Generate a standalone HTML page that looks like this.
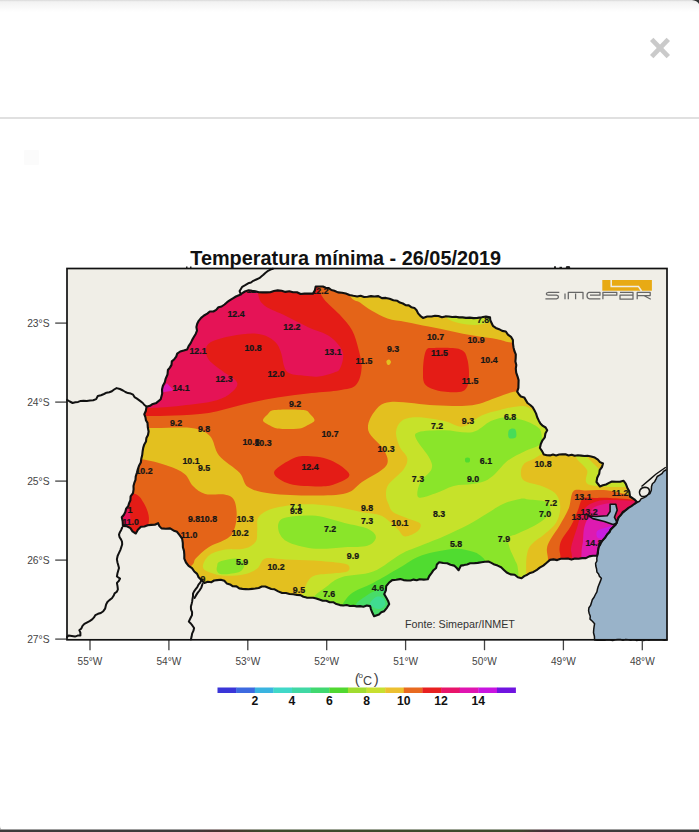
<!DOCTYPE html>
<html><head><meta charset="utf-8">
<style>
html,body{margin:0;padding:0;background:#fff;width:699px;height:832px;overflow:hidden}
svg{position:absolute;left:0;top:0;display:block}
text{font-family:"Liberation Sans",sans-serif}
</style></head>
<body>
<svg width="699" height="832" viewBox="0 0 699 832">
<defs>
<linearGradient id="topsh" x1="0" y1="0" x2="0" y2="1">
<stop offset="0" stop-color="#d8d8d8"/><stop offset="0.15" stop-color="#f2f2f2"/><stop offset="1" stop-color="#ffffff"/>
</linearGradient>
<linearGradient id="botg" x1="0" y1="0" x2="1" y2="0"><stop offset="0" stop-color="#3c3c3c"/><stop offset="0.27" stop-color="#3c3c3c"/><stop offset="0.31" stop-color="#4a3232"/><stop offset="0.38" stop-color="#3c4a2c"/><stop offset="0.74" stop-color="#3c4a2c"/><stop offset="0.78" stop-color="#4a2c3a"/><stop offset="0.83" stop-color="#3c3c3c"/><stop offset="1" stop-color="#3c3c3c"/></linearGradient>
<clipPath id="st"><path id="stp" d="M241.6,293.6 L244.9,291.5 L248.7,290.2 L252.1,290.9 L255.5,291.3 L258.8,292.2 L262.6,292.4 L266.4,292.4 L270.2,292.2 L273.9,291.0 L277.7,290.4 L281.6,290.8 L285.4,291.9 L289.3,291.3 L293.1,292.2 L297.0,292.2 L300.6,294.0 L304.5,293.6 L308.7,293.5 L312.9,293.6 L314.9,290.3 L315.7,286.5 L319.3,286.5 L322.9,286.5 L325.7,287.8 L328.8,288.1 L331.4,290.0 L334.3,290.8 L338.0,292.4 L342.0,292.7 L345.8,293.6 L349.5,295.0 L353.3,295.8 L357.2,296.5 L360.6,295.7 L364.1,297.0 L367.5,296.7 L371.0,296.1 L374.4,296.5 L378.3,296.1 L381.9,298.1 L385.8,297.9 L389.6,298.8 L393.4,300.2 L397.3,300.8 L399.9,302.6 L402.9,303.5 L405.6,305.1 L408.8,305.4 L411.3,307.2 L414.4,307.9 L416.6,310.3 L418.1,313.4 L420.3,315.8 L423.0,317.9 L427.2,316.5 L431.6,316.5 L435.0,315.8 L438.5,316.0 L441.9,317.3 L445.4,316.4 L448.8,316.5 L452.2,317.0 L455.7,316.7 L459.1,317.4 L462.6,317.4 L466.0,317.9 L469.8,317.6 L473.6,318.1 L477.4,317.9 L481.7,317.3 L486.0,316.5 L490.0,317.2 L490.3,320.3 L491.6,323.0 L492.9,325.8 L495.8,327.9 L499.1,329.2 L502.2,330.9 L505.8,331.5 L507.9,334.6 L511.0,336.8 L512.9,340.1 L513.0,343.8 L513.5,347.4 L514.4,351.0 L515.8,354.4 L515.7,358.0 L515.4,361.5 L516.3,365.1 L515.8,368.7 L516.2,372.6 L517.5,376.3 L518.6,380.1 L518.5,384.0 L518.4,387.9 L517.2,391.6 L518.9,394.2 L520.9,396.5 L524.2,397.4 L525.8,400.1 L527.5,403.0 L530.2,405.0 L532.7,407.3 L534.4,410.2 L536.1,413.6 L537.2,417.3 L538.7,420.4 L540.4,423.4 L542.9,425.9 L545.6,427.5 L547.2,430.2 L545.4,433.5 L544.8,437.3 L542.5,440.3 L540.8,444.0 L539.9,448.0 L542.1,451.1 L543.8,454.5 L546.9,455.2 L550.0,455.4 L553.0,454.5 L556.1,455.4 L559.2,454.5 L562.3,454.4 L565.5,454.3 L568.5,455.5 L571.7,454.7 L574.7,455.8 L577.9,455.3 L581.2,455.6 L584.4,456.0 L587.6,455.8 L591.2,456.5 L594.8,457.6 L597.9,459.6 L600.0,462.1 L603.0,463.5 L602.0,467.0 L599.7,470.1 L599.2,473.8 L597.2,477.7 L596.5,482.0 L600.0,486.5 L602.9,485.3 L606.0,484.5 L609.0,482.9 L612.0,481.5 L616.0,481.7 L620.0,481.8 L623.6,480.8 L625.7,483.6 L627.3,487.7 L629.3,491.5 L630.0,496.5 L634.3,499.3 L637.2,502.2 L634.3,504.0 L631.4,506.1 L628.5,507.9 L625.8,510.1 L622.9,511.9 L621.1,514.8 L618.7,517.2 L617.4,520.8 L615.8,524.4 L613.0,527.2 L610.8,529.4 L609.5,532.3 L607.2,534.4 L605.3,537.5 L602.9,540.1 L600.0,543.3 L598.6,547.3 L597.9,551.5 L597.2,555.8 L592.9,555.8 L589.3,556.4 L585.9,558.1 L582.2,558.1 L578.6,558.7 L575.0,558.6 L571.5,559.6 L567.9,558.5 L564.3,558.7 L560.7,558.8 L557.2,560.1 L553.6,559.4 L550.0,559.9 L546.7,562.8 L543.3,565.6 L539.7,567.6 L536.5,570.2 L533.5,571.9 L530.2,572.9 L527.3,574.7 L524.2,576.1 L521.6,578.2 L517.8,577.2 L514.7,574.7 L510.5,574.4 L506.7,572.5 L503.9,569.9 L501.1,567.2 L497.6,565.6 L494.4,564.6 L491.4,562.9 L488.4,561.5 L484.9,561.7 L481.5,562.2 L477.7,562.9 L473.9,563.2 L470.1,563.3 L467.1,564.4 L464.0,565.1 L460.9,565.6 L458.6,570.2 L456.5,567.8 L454.1,565.6 L450.5,564.8 L447.2,563.3 L443.2,563.0 L439.2,562.2 L436.9,564.6 L436.1,568.0 L433.5,570.2 L431.5,573.2 L429.3,576.0 L427.8,579.3 L423.8,579.6 L419.7,579.3 L416.7,580.2 L413.6,579.6 L410.6,580.5 L407.1,580.5 L403.6,580.1 L400.2,579.1 L396.2,579.7 L392.2,580.1 L388.9,582.8 L386.2,586.1 L385.9,590.3 L384.2,594.1 L386.5,598.0 L388.1,600.9 L389.2,604.1 L386.9,607.8 L384.2,611.2 L381.3,612.3 L379.0,614.5 L374.1,616.2 L372.0,612.0 L370.9,609.1 L370.1,606.1 L366.8,605.5 L363.4,606.7 L360.1,606.1 L356.7,606.4 L353.4,605.8 L350.0,606.0 L346.7,605.0 L343.3,605.5 L340.0,605.1 L336.4,604.1 L333.2,602.2 L329.6,602.2 L326.3,600.8 L322.7,600.7 L319.3,599.5 L316.3,598.4 L313.2,597.7 L310.0,597.7 L306.6,597.6 L303.4,596.7 L300.4,595.1 L297.0,594.9 L293.3,594.2 L289.5,594.0 L285.9,593.0 L282.1,593.0 L278.2,591.4 L274.6,589.3 L271.3,589.0 L268.3,587.8 L265.3,586.5 L261.9,586.5 L258.7,588.0 L255.3,588.5 L252.0,588.9 L248.6,589.3 L245.5,589.1 L242.4,588.9 L239.3,588.4 L236.5,586.4 L232.9,586.3 L230.1,584.4 L226.7,583.4 L224.3,580.8 L220.8,579.7 L217.2,580.1 L214.1,580.5 L211.5,582.2 L207.8,581.7 L204.3,582.9 L201.4,580.1 L198.6,577.2 L197.1,573.9 L194.3,571.5 L192.0,568.1 L188.6,565.8 L186.0,562.5 L184.3,558.6 L184.3,554.7 L184.0,550.9 L182.9,547.2 L182.8,542.9 L182.1,538.7 L179.6,535.2 L177.0,531.8 L173.4,530.4 L170.1,528.4 L165.8,528.7 L161.5,528.4 L159.4,526.1 L158.1,523.2 L154.8,524.8 L151.2,524.9 L147.7,525.3 L144.4,526.5 L140.9,526.7 L137.9,529.8 L135.8,533.5 L132.5,531.4 L130.4,528.1 L126.9,526.3 L122.9,525.9 L122.7,521.6 L121.8,517.3 L123.9,514.8 L125.3,512.0 L126.1,508.8 L128.2,506.3 L129.1,503.1 L130.4,500.2 L130.6,496.4 L133.0,493.1 L133.6,489.4 L133.5,486.1 L134.3,482.9 L135.5,479.8 L135.7,476.6 L136.8,473.0 L137.8,469.4 L139.0,465.8 L140.8,462.5 L141.3,458.7 L142.2,455.1 L142.6,451.5 L143.2,447.9 L144.3,444.4 L146.0,441.4 L146.4,437.9 L148.0,434.9 L148.6,431.5 L147.8,427.2 L147.5,422.9 L145.9,420.2 L145.4,417.1 L144.3,414.3 L145.9,410.7 L146.5,406.8 L150.0,405.8 L152.1,404.3 L156.4,402.9 L160.7,399.3 L162.2,393.6 L162.0,389.6 L162.9,385.7 L164.8,382.3 L165.7,378.6 L167.5,374.5 L167.9,370.0 L169.9,367.6 L171.5,364.9 L171.8,361.4 L174.3,359.2 L176.2,356.7 L177.2,353.7 L180.2,351.5 L183.7,350.5 L187.2,349.4 L188.6,346.1 L190.7,343.1 L192.2,339.9 L194.0,336.8 L195.8,333.7 L197.0,330.6 L196.4,327.1 L197.2,323.8 L198.7,320.8 L201.1,317.9 L204.0,315.5 L207.3,313.6 L209.8,311.5 L213.4,311.5 L216.2,309.9 L218.4,307.3 L221.6,306.5 L224.5,304.5 L227.1,302.2 L230.0,300.2 L232.9,298.3 L235.9,296.5 L238.9,295.3Z"/></clipPath>
</defs>
<rect x="0" y="0" width="699" height="832" fill="#fff"/>
<rect x="0" y="0" width="699" height="12" fill="url(#topsh)"/>
<rect x="0" y="117" width="699" height="2" fill="#e0e0e0"/>
<rect x="24" y="150" width="15" height="15" rx="1" fill="#fbfbfb"/>
<path d="M692,0 H699 V4 C698,1.5 695,0.5 692,0 Z" fill="#333"/>
<rect x="0" y="829.5" width="699" height="2.5" fill="url(#botg)"/>
<path d="M0,826 C0,829 1,829.5 3,829.5 L0,829.5 Z" fill="#888"/>
<g stroke="#cacaca" stroke-width="4.8">
<line x1="651.7" y1="39.4" x2="668.3" y2="56.6"/><line x1="668.3" y1="39.4" x2="651.7" y2="56.6"/>
</g>
<text x="345.7" y="265.2" font-size="19.87" font-weight="bold" text-anchor="middle" fill="#111">Temperatura mínima - 26/05/2019</text>
<rect x="67" y="268" width="600" height="372" fill="#f0eee7"/>
<g clip-path="url(#st)">
<rect x="67" y="268" width="600" height="372" fill="#e3c01f"/>
<path fill="#e46418" d="M120.0,425.0 C120.0,425.0 138.1,427.5 150.0,428.0 C161.9,428.5 181.5,426.7 191.5,428.0 C201.5,429.3 205.4,431.4 210.0,436.0 C214.6,440.6 214.1,449.4 219.0,455.5 C223.9,461.6 234.8,467.4 239.6,472.7 C244.4,477.9 242.8,483.5 248.0,487.0 C253.2,490.5 259.9,492.1 270.5,493.5 C281.1,494.9 299.1,495.5 311.7,495.5 C324.3,495.5 337.6,495.6 346.0,493.3 C354.4,491.1 355.3,486.6 362.0,482.0 C368.7,477.4 382.3,471.3 386.0,466.0 C389.7,460.7 386.9,455.9 384.0,450.0 C381.1,444.1 369.9,436.8 368.3,430.4 C366.7,424.0 370.9,416.2 374.6,411.5 C378.3,406.8 380.4,403.1 390.4,402.0 C400.4,400.9 420.8,404.7 434.4,405.2 C448.0,405.7 461.7,406.5 472.2,405.2 C482.7,403.9 489.9,399.6 497.2,397.3 C504.5,395.0 508.7,392.5 515.8,391.6 C522.9,390.7 532.6,392.3 540.0,392.0 C547.4,391.7 560.0,390.0 560.0,390.0 C560.0,390.0 560.0,270.0 560.0,270.0 C560.0,270.0 120.0,270.0 120.0,270.0 C120.0,270.0 120.0,425.0 120.0,425.0Z"/>
<path fill="#e46418" d="M110.0,459.0 C110.0,459.0 130.4,457.9 140.0,459.0 C149.6,460.1 160.1,463.3 167.5,465.8 C174.9,468.3 180.3,470.6 184.6,474.0 C188.8,477.4 189.6,482.7 193.0,486.0 C196.4,489.3 199.9,492.6 205.2,494.0 C210.5,495.4 219.8,493.5 224.6,494.5 C229.4,495.5 232.0,496.6 234.0,500.0 C236.0,503.4 236.7,510.0 236.7,515.0 C236.7,520.0 235.6,526.1 234.0,530.0 C232.4,533.9 231.4,535.7 227.2,538.6 C223.0,541.5 213.8,543.9 208.6,547.2 C203.3,550.5 198.6,555.5 195.7,558.6 C192.8,561.7 195.7,562.2 191.4,565.8 C187.1,569.4 170.0,580.0 170.0,580.0 C170.0,580.0 110.0,580.0 110.0,580.0 C110.0,580.0 110.0,459.0 110.0,459.0Z"/>
<path fill="#e41c16" d="M120.0,416.0 C120.0,416.0 136.9,416.1 146.0,416.0 C155.1,415.9 163.9,416.0 174.3,415.5 C184.8,415.0 197.2,414.8 208.7,413.0 C220.1,411.2 231.6,407.1 243.0,404.5 C254.4,401.9 265.9,399.4 277.3,397.5 C288.8,395.6 301.3,394.2 311.7,393.0 C322.1,391.8 332.2,391.5 339.6,390.2 C347.0,388.9 352.3,388.7 356.0,385.0 C359.7,381.3 361.2,374.1 361.6,368.1 C362.0,362.1 360.1,355.5 358.5,349.2 C356.9,342.9 355.3,336.2 352.2,330.4 C349.1,324.6 344.3,319.9 339.6,314.6 C334.9,309.4 327.6,304.0 323.9,298.9 C320.2,293.8 318.8,290.5 317.6,284.0 C316.5,277.5 317.0,260.0 317.0,260.0 C317.0,260.0 120.0,260.0 120.0,260.0 C120.0,260.0 120.0,416.0 120.0,416.0Z"/>
<path fill="#e51356" d="M120.0,260.0 C120.0,260.0 255.0,260.0 255.0,260.0 C255.0,260.0 256.3,285.1 257.8,292.6 C259.3,300.1 259.9,301.5 264.1,305.2 C268.3,308.9 275.7,310.9 283.0,314.6 C290.3,318.3 300.2,323.5 308.1,327.2 C316.0,330.9 324.4,332.5 330.2,336.7 C336.0,340.9 341.2,347.1 342.8,352.4 C344.4,357.7 341.6,365.2 340.0,368.6 C338.4,372.0 336.6,371.6 333.0,372.9 C329.4,374.2 323.5,376.0 318.7,376.5 C313.9,377.0 309.2,376.3 304.4,375.8 C299.6,375.3 293.3,374.9 290.0,373.5 C286.7,372.1 285.8,370.4 284.4,367.2 C283.0,364.0 282.7,358.1 281.5,354.3 C280.3,350.5 279.3,347.2 277.2,344.3 C275.1,341.4 272.4,339.0 268.6,337.2 C264.8,335.4 260.5,333.8 254.3,333.6 C248.1,333.4 238.7,334.7 231.6,336.0 C224.5,337.3 216.3,339.3 212.0,341.5 C207.7,343.7 206.5,345.9 206.0,349.0 C205.5,352.1 206.2,356.3 209.0,360.1 C211.8,363.9 218.3,367.8 223.0,371.6 C227.7,375.4 236.3,379.2 237.3,383.0 C238.3,386.8 233.3,391.3 229.0,394.4 C224.7,397.5 219.2,399.8 211.5,401.6 C203.8,403.5 191.5,404.5 182.9,405.5 C174.3,406.5 166.2,407.1 160.0,407.5 C153.8,407.9 152.7,407.9 146.0,408.0 C139.3,408.1 120.0,408.0 120.0,408.0 C120.0,408.0 120.0,260.0 120.0,260.0Z"/>
<path fill="#dd1ab0" d="M158.0,393.0 L166.8,383.2 L174.0,390.5Z"/>
<path fill="#e3c01f" d="M340.0,270.0 C340.0,270.0 346.7,290.6 350.0,296.0 C353.3,301.4 356.4,300.2 360.0,302.6 C363.6,305.0 366.8,307.9 371.4,310.6 C376.0,313.3 381.8,316.7 387.5,318.6 C393.2,320.5 398.9,320.7 405.8,322.0 C412.7,323.3 421.0,325.1 428.6,326.6 C436.2,328.1 443.9,329.7 451.5,331.2 C459.1,332.7 466.8,334.5 474.4,335.8 C482.0,337.1 491.2,338.1 497.3,339.2 C503.4,340.3 503.9,341.5 511.0,342.6 C518.1,343.7 540.0,346.0 540.0,346.0 C540.0,346.0 540.0,270.0 540.0,270.0 C540.0,270.0 340.0,270.0 340.0,270.0Z"/>
<path fill="#c6e22a" d="M447.0,318.0 C448.7,319.7 451.7,320.9 455.0,322.0 C458.3,323.1 462.8,324.1 467.0,324.5 C471.2,324.9 476.2,325.1 480.0,324.5 C483.8,323.9 487.7,323.1 490.0,321.0 C492.3,318.9 494.0,312.0 494.0,312.0 C494.0,312.0 445.0,312.0 445.0,312.0 C445.0,312.0 445.3,316.3 447.0,318.0Z"/>
<path fill="#e3c01f" d="M386.5,361.0 C386.8,360.2 388.2,359.3 389.0,359.5 C389.8,359.7 391.0,361.1 391.0,362.0 C391.0,362.9 389.7,364.7 389.0,365.0 C388.3,365.3 387.4,364.7 387.0,364.0 C386.6,363.3 386.2,361.8 386.5,361.0Z"/>
<path fill="#e41c16" d="M425.9,350.8 C427.8,347.0 428.8,348.2 434.5,348.0 C440.2,347.8 454.7,347.5 460.2,349.4 C465.7,351.3 466.0,354.4 467.4,359.4 C468.8,364.4 469.5,374.1 468.8,379.4 C468.1,384.6 467.4,388.9 463.1,390.9 C458.8,392.9 449.3,392.4 443.1,391.5 C436.9,390.6 429.2,388.6 425.9,385.2 C422.5,381.8 423.0,376.6 423.0,370.9 C423.0,365.2 424.0,354.6 425.9,350.8Z"/>
<path fill="#e3c01f" d="M263.0,420.5 C262.7,418.6 266.3,415.7 268.0,414.0 C269.7,412.3 269.5,411.1 273.0,410.3 C276.5,409.6 283.7,409.5 289.0,409.5 C294.3,409.5 301.5,409.6 305.0,410.3 C308.5,411.1 308.4,412.3 310.0,414.0 C311.6,415.7 315.0,418.6 314.5,420.5 C314.0,422.4 309.4,424.1 307.0,425.5 C304.6,426.9 303.0,428.0 300.0,428.6 C297.0,429.2 292.8,429.0 289.0,429.0 C285.2,429.0 280.5,429.2 277.3,428.6 C274.1,428.0 272.4,426.9 270.0,425.5 C267.6,424.1 263.3,422.4 263.0,420.5Z"/>
<path fill="#e41c16" d="M274.0,472.7 C274.0,468.7 284.9,462.8 290.0,460.0 C295.1,457.2 298.1,456.0 304.8,456.0 C311.5,456.0 322.6,456.9 330.0,460.0 C337.4,463.1 348.6,470.4 349.4,474.4 C350.2,478.4 340.1,482.0 335.0,484.0 C329.9,486.0 326.0,486.4 318.5,486.4 C311.0,486.4 297.4,486.3 290.0,484.0 C282.6,481.7 274.0,476.7 274.0,472.7Z"/>
<path fill="#e41c16" d="M110.0,490.0 C110.0,490.0 129.1,491.6 134.7,493.7 C140.2,495.8 141.0,498.7 143.3,502.3 C145.6,505.9 147.9,510.9 148.6,515.2 C149.3,519.5 148.9,523.1 147.5,528.1 C146.1,533.1 140.0,545.0 140.0,545.0 C140.0,545.0 110.0,545.0 110.0,545.0 C110.0,545.0 110.0,490.0 110.0,490.0Z"/>
<path fill="#e51356" d="M110.0,505.0 C110.0,505.0 120.0,504.7 123.0,505.0 C126.0,505.3 127.0,504.6 128.2,506.6 C129.4,508.7 130.4,514.1 130.4,517.3 C130.4,520.5 131.6,523.8 128.2,525.9 C124.8,528.0 110.0,530.0 110.0,530.0 C110.0,530.0 110.0,505.0 110.0,505.0Z"/>
<path fill="#c6e22a" d="M396.0,432.2 C396.3,427.8 398.2,423.5 401.6,421.0 C405.0,418.5 409.4,417.3 416.5,417.3 C423.6,417.3 436.6,419.4 444.4,421.0 C452.1,422.6 456.8,427.5 463.0,426.6 C469.2,425.7 475.4,418.3 481.6,415.5 C487.8,412.7 493.1,411.5 500.0,409.9 C506.9,408.3 517.2,405.6 522.9,405.9 C528.6,406.2 528.2,407.6 534.4,411.6 C540.6,415.6 560.0,430.0 560.0,430.0 C560.0,430.0 600.0,470.0 600.0,470.0 C600.0,470.0 640.0,480.0 640.0,480.0 C640.0,480.0 640.0,620.0 640.0,620.0 C640.0,620.0 320.0,620.0 320.0,620.0 C320.0,620.0 305.1,605.0 302.5,600.0 C299.9,595.0 303.5,593.4 304.4,590.2 C305.3,587.0 306.2,583.4 308.1,580.9 C310.0,578.4 311.5,576.5 315.5,575.3 C319.5,574.1 327.0,574.1 332.3,573.5 C337.6,572.9 344.4,572.9 347.2,571.6 C350.0,570.4 349.9,567.4 349.0,566.0 C348.1,564.6 347.5,564.1 341.6,563.2 C335.7,562.3 323.0,561.1 313.7,560.5 C304.4,559.9 293.9,559.8 285.8,559.5 C277.7,559.2 270.1,557.1 265.3,558.6 C260.6,560.1 260.8,566.0 257.3,568.6 C253.8,571.2 249.7,573.1 244.4,574.3 C239.2,575.5 231.3,576.0 225.8,575.8 C220.3,575.6 215.3,574.3 211.5,572.9 C207.7,571.5 203.4,570.1 202.9,567.2 C202.4,564.4 205.3,558.7 208.6,555.8 C211.9,552.9 216.9,551.2 222.9,550.0 C228.9,548.8 238.9,550.0 244.4,548.6 C249.9,547.2 253.7,544.5 255.8,541.4 C257.9,538.3 256.7,534.0 257.2,530.0 C257.7,526.0 256.0,520.8 258.6,517.2 C261.2,513.6 265.8,510.8 272.9,508.6 C280.0,506.5 292.0,504.8 301.5,504.3 C311.0,503.8 320.2,504.5 330.1,505.8 C340.0,507.1 352.3,510.2 360.9,511.9 C369.5,513.6 375.5,513.0 381.5,515.8 C387.5,518.6 393.1,525.2 397.0,528.6 C400.9,532.0 401.3,536.0 404.7,536.4 C408.1,536.8 414.9,533.4 417.5,531.2 C420.1,529.1 421.8,525.6 420.1,523.5 C418.4,521.4 411.7,520.2 407.2,518.3 C402.7,516.4 396.1,514.4 393.0,512.0 C389.9,509.6 389.7,506.8 388.5,504.0 C387.3,501.2 386.0,498.7 386.0,495.4 C386.0,492.1 385.7,488.6 388.6,484.3 C391.5,480.0 400.4,473.8 403.5,469.4 C406.6,465.0 407.8,461.9 407.2,458.2 C406.6,454.5 401.7,451.4 399.8,447.1 C397.9,442.8 395.7,436.6 396.0,432.2Z"/>
<path fill="#8ae52a" d="M418.4,432.2 C423.0,430.6 435.4,430.3 444.4,430.3 C453.4,430.3 464.6,433.8 472.3,432.2 C480.1,430.6 485.1,423.5 490.9,421.0 C496.7,418.5 501.6,417.3 507.2,417.2 C512.8,417.1 519.1,418.9 524.3,420.6 C529.4,422.3 535.2,425.2 538.1,427.5 C541.0,429.8 541.2,431.4 541.5,434.3 C541.8,437.2 542.7,441.7 539.8,444.6 C536.9,447.5 529.7,448.8 524.3,451.5 C518.9,454.2 512.1,457.2 507.2,461.0 C502.3,464.8 498.7,470.7 495.0,474.0 C491.3,477.3 488.8,479.3 485.0,481.0 C481.2,482.7 477.5,483.2 472.3,484.0 C467.1,484.8 459.9,484.4 453.7,486.0 C447.5,487.6 441.0,491.7 435.1,493.6 C429.2,495.5 420.9,499.2 418.4,497.3 C415.9,495.4 418.0,487.0 420.2,482.4 C422.4,477.8 429.8,473.4 431.4,469.4 C432.9,465.4 432.0,463.2 429.5,458.2 C427.0,453.2 418.4,443.9 416.5,439.6 C414.6,435.3 413.8,433.8 418.4,432.2Z"/>
<path fill="#48dc58" d="M509.0,430.0 C510.0,428.5 513.8,427.8 515.0,429.0 C516.2,430.2 517.0,435.5 516.0,437.0 C515.0,438.5 510.2,439.2 509.0,438.0 C507.8,436.8 508.0,431.5 509.0,430.0Z"/>
<path fill="#50dc30" d="M465.5,458.0 C466.2,457.3 468.8,457.3 469.5,458.0 C470.2,458.7 470.2,461.3 469.5,462.0 C468.8,462.7 466.2,462.7 465.5,462.0 C464.8,461.3 464.8,458.7 465.5,458.0Z"/>
<path fill="#8ae52a" d="M278.6,522.9 C279.8,520.0 281.0,518.4 287.2,517.2 C293.4,516.0 306.2,514.8 315.8,515.8 C325.4,516.8 335.9,520.8 344.5,522.9 C353.1,525.0 362.1,526.2 367.3,528.6 C372.5,531.0 375.9,534.3 375.9,537.2 C375.9,540.1 372.5,544.1 367.3,545.8 C362.1,547.5 353.1,546.7 344.5,547.2 C335.9,547.7 324.9,549.4 315.8,548.7 C306.7,548.0 296.1,545.3 290.1,542.9 C284.2,540.5 282.0,537.7 280.1,534.4 C278.2,531.1 277.4,525.8 278.6,522.9Z"/>
<path fill="#8ae52a" d="M217.2,565.8 C217.7,564.1 216.8,562.7 220.1,561.5 C223.4,560.3 233.1,558.4 237.2,558.6 C241.2,558.8 243.9,560.8 244.4,562.9 C244.9,565.0 243.7,569.6 240.1,571.5 C236.5,573.4 226.7,574.3 222.9,574.3 C219.1,574.3 218.1,572.9 217.2,571.5 C216.2,570.1 216.7,567.5 217.2,565.8Z"/>
<path fill="#8ae52a" d="M311.0,620.0 C311.0,620.0 309.2,605.6 311.8,600.0 C314.4,594.4 321.7,590.3 326.7,586.5 C331.7,582.7 333.9,579.7 341.6,577.2 C349.3,574.7 363.2,575.5 373.1,571.6 C383.0,567.7 393.6,558.1 401.0,554.0 C408.4,549.9 410.2,549.9 417.2,547.0 C424.2,544.1 434.3,540.4 442.9,536.7 C451.5,533.0 461.5,528.3 468.7,524.6 C475.9,520.9 480.1,517.7 485.8,514.3 C491.5,510.9 497.3,506.6 503.0,504.0 C508.7,501.4 515.7,499.6 520.0,498.9 C524.3,498.1 524.3,499.0 528.6,499.5 C532.9,500.0 542.2,500.0 545.8,501.7 C549.4,503.4 550.4,507.1 550.4,509.8 C550.4,512.5 548.5,515.1 545.8,517.8 C543.1,520.5 539.1,523.1 534.3,525.8 C529.5,528.5 521.6,531.8 517.2,533.8 C512.9,535.8 509.4,535.5 508.2,538.0 C507.0,540.5 508.8,545.0 509.9,548.7 C511.0,552.4 513.5,556.2 514.9,560.1 C516.3,564.0 517.4,562.0 518.3,572.0 C519.1,582.0 520.0,620.0 520.0,620.0 C520.0,620.0 311.0,620.0 311.0,620.0Z"/>
<path fill="#50dc30" d="M338.7,612.0 C340.7,607.7 344.5,599.2 350.2,594.4 C355.9,589.6 364.8,587.5 373.1,583.0 C381.4,578.5 392.6,571.9 400.0,567.6 C407.4,563.3 411.5,559.9 417.2,557.3 C422.9,554.7 427.7,553.5 434.3,552.1 C440.9,550.7 450.1,548.7 456.7,548.7 C463.3,548.7 469.5,550.7 473.8,552.1 C478.1,553.5 480.2,555.3 482.4,557.3 C484.6,559.3 484.9,560.2 487.0,564.0 C489.1,567.8 495.0,580.0 495.0,580.0 C495.0,580.0 495.0,620.0 495.0,620.0 C495.0,620.0 338.0,620.0 338.0,620.0 C338.0,620.0 336.7,616.3 338.7,612.0Z"/>
<path fill="#48dc68" d="M356.0,606.0 C355.0,602.3 362.3,598.7 366.0,596.0 C369.7,593.3 374.3,591.0 378.0,590.0 C381.7,589.0 385.7,588.3 388.0,590.0 C390.3,591.7 392.0,596.3 392.0,600.0 C392.0,603.7 391.3,609.0 388.0,612.0 C384.7,615.0 377.3,619.0 372.0,618.0 C366.7,617.0 357.0,609.7 356.0,606.0Z"/>
<path fill="#40dc90" d="M370.0,604.0 C369.7,602.0 373.8,598.0 376.0,597.0 C378.2,596.0 381.5,596.7 383.0,598.0 C384.5,599.3 385.8,603.2 385.0,605.0 C384.2,606.8 380.5,609.2 378.0,609.0 C375.5,608.8 370.3,606.0 370.0,604.0Z"/>
<path fill="#e3c01f" d="M520.9,472.1 C520.9,469.2 522.0,465.8 524.3,463.5 C526.6,461.2 531.1,460.3 534.6,458.4 C538.1,456.5 545.0,452.0 545.0,452.0 C545.0,452.0 575.0,450.0 575.0,450.0 C575.0,450.0 575.0,455.7 577.0,459.0 C579.0,462.3 584.8,465.7 587.0,470.0 C589.2,474.3 581.2,482.2 590.0,485.0 C598.8,487.8 640.0,487.0 640.0,487.0 C640.0,487.0 640.0,580.0 640.0,580.0 C640.0,580.0 526.3,580.0 526.3,580.0 C526.3,580.0 525.9,565.3 526.3,560.1 C526.7,554.9 527.3,551.8 528.6,548.7 C529.9,545.7 531.8,544.1 534.3,541.8 C536.8,539.5 540.2,537.6 543.5,534.9 C546.8,532.2 551.2,528.9 553.8,525.8 C556.4,522.6 558.0,519.6 559.0,516.0 C560.0,512.4 560.7,507.8 560.0,504.0 C559.3,500.2 558.1,496.0 555.0,493.0 C551.9,490.0 546.6,488.1 541.5,486.0 C536.4,483.9 527.7,483.0 524.3,480.7 C520.9,478.4 520.9,475.0 520.9,472.1Z"/>
<path fill="#e46418" d="M573.2,491.4 C575.9,488.4 581.0,490.7 585.0,490.5 C589.0,490.3 593.0,490.0 597.2,490.0 C601.4,490.0 605.5,490.0 610.1,490.7 C614.7,491.4 620.0,492.8 625.0,494.0 C630.0,495.2 640.0,498.0 640.0,498.0 C640.0,498.0 640.0,580.0 640.0,580.0 C640.0,580.0 548.0,580.0 548.0,580.0 C548.0,580.0 548.3,565.3 548.1,560.1 C547.9,554.9 546.5,552.1 546.9,548.7 C547.3,545.3 548.3,543.3 550.4,539.5 C552.5,535.7 556.5,530.9 559.5,525.8 C562.5,520.6 566.4,514.3 568.7,508.6 C571.0,502.9 570.5,494.4 573.2,491.4Z"/>
<path fill="#e41c16" d="M582.9,498.6 C585.7,496.6 590.5,498.1 595.0,498.0 C599.5,497.9 602.6,497.6 610.1,497.9 C617.6,498.2 640.0,500.0 640.0,500.0 C640.0,500.0 640.0,580.0 640.0,580.0 C640.0,580.0 560.0,580.0 560.0,580.0 C560.0,580.0 560.8,564.2 560.7,559.0 C560.6,553.8 559.3,552.0 559.5,548.7 C559.7,545.5 559.9,543.3 561.8,539.5 C563.7,535.7 568.3,530.7 571.0,525.8 C573.7,520.9 576.0,514.5 578.0,510.0 C580.0,505.5 580.1,500.6 582.9,498.6Z"/>
<path fill="#e51356" d="M585.8,507.2 C588.3,504.5 591.4,503.2 595.0,502.0 C598.6,500.8 599.7,500.2 607.2,500.0 C614.7,499.8 640.0,501.0 640.0,501.0 C640.0,501.0 640.0,580.0 640.0,580.0 C640.0,580.0 572.0,580.0 572.0,580.0 C572.0,580.0 572.3,563.0 572.1,557.8 C571.9,552.6 570.8,551.8 571.0,548.7 C571.2,545.7 572.2,543.0 573.2,539.5 C574.2,536.0 575.9,531.6 577.0,528.0 C578.1,524.4 578.5,521.5 580.0,518.0 C581.5,514.5 583.3,509.9 585.8,507.2Z"/>
<path fill="#e0188e" d="M592.0,509.0 C593.3,507.3 596.7,505.8 600.0,505.0 C603.3,504.2 610.0,502.2 612.0,504.0 C614.0,505.8 614.0,513.8 612.0,516.0 C610.0,518.2 603.3,517.2 600.0,517.0 C596.7,516.8 593.3,516.3 592.0,515.0 C590.7,513.7 590.7,510.7 592.0,509.0Z"/>
<path fill="#dd1ab0" d="M590.1,517.2 C593.5,516.2 600.6,520.3 604.4,521.5 C608.2,522.7 607.1,523.8 613.0,524.4 C618.9,525.0 640.0,525.0 640.0,525.0 C640.0,525.0 640.0,580.0 640.0,580.0 C640.0,580.0 581.0,580.0 581.0,580.0 C581.0,580.0 581.2,559.4 581.5,553.0 C581.8,546.6 582.4,545.8 582.9,541.5 C583.4,537.2 583.1,531.2 584.3,527.2 C585.5,523.2 586.8,518.2 590.1,517.2Z"/>
<path fill="#c81ee0" d="M597.2,531.0 C598.7,529.2 604.8,527.8 607.2,527.2 C609.6,526.6 611.7,525.6 611.5,527.2 C611.3,528.8 608.2,535.2 606.0,537.0 C603.8,538.8 599.5,539.0 598.0,538.0 C596.5,537.0 595.7,532.8 597.2,531.0Z"/>
<g font-size="9.8" font-weight="bold" fill="#161616" stroke="#161616" stroke-width="0.25" text-anchor="middle" transform="scale(0.9,1)">
<text x="262.2" y="316.9">12.4</text>
<text x="324.4" y="329.9">12.2</text>
<text x="220.0" y="353.9">12.1</text>
<text x="281.1" y="350.9">10.8</text>
<text x="370.0" y="354.9">13.1</text>
<text x="436.7" y="351.9">9.3</text>
<text x="404.4" y="363.9">11.5</text>
<text x="306.7" y="376.9">12.0</text>
<text x="248.9" y="381.9">12.3</text>
<text x="201.1" y="390.9">14.1</text>
<text x="483.9" y="339.9">10.7</text>
<text x="528.9" y="342.9">10.9</text>
<text x="488.3" y="355.9">11.5</text>
<text x="543.3" y="362.9">10.4</text>
<text x="522.2" y="383.9">11.5</text>
<text x="536.7" y="322.9">7.8</text>
<text x="327.8" y="406.9">9.2</text>
<text x="195.6" y="425.9">9.2</text>
<text x="226.7" y="431.9">9.8</text>
<text x="278.9" y="444.9">10.8</text>
<text x="292.2" y="445.9">10.3</text>
<text x="366.7" y="436.9">10.7</text>
<text x="485.6" y="428.9">7.2</text>
<text x="520.0" y="423.9">9.3</text>
<text x="566.7" y="419.9">6.8</text>
<text x="428.9" y="451.9">10.3</text>
<text x="212.2" y="463.9">10.1</text>
<text x="226.7" y="470.9">9.5</text>
<text x="160.0" y="473.9">10.2</text>
<text x="344.4" y="469.9">12.4</text>
<text x="540.0" y="463.9">6.1</text>
<text x="464.4" y="481.9">7.3</text>
<text x="525.6" y="481.9">9.0</text>
<text x="603.3" y="466.9">10.8</text>
<text x="647.8" y="499.9">13.1</text>
<text x="688.9" y="495.9">11.2</text>
<text x="612.2" y="505.9">7.2</text>
<text x="605.6" y="516.9">7.0</text>
<text x="654.4" y="514.9">13.2</text>
<text x="644.4" y="520.4">13.0</text>
<text x="328.9" y="509.9">7.1</text>
<text x="328.9" y="513.9">9.8</text>
<text x="407.8" y="510.9">9.8</text>
<text x="407.8" y="523.9">7.3</text>
<text x="444.4" y="525.9">10.1</text>
<text x="487.8" y="516.9">8.3</text>
<text x="215.6" y="521.9">9.8</text>
<text x="231.7" y="521.9">10.8</text>
<text x="272.2" y="521.9">10.3</text>
<text x="366.7" y="531.9">7.2</text>
<text x="210.0" y="537.9">11.0</text>
<text x="266.7" y="535.9">10.2</text>
<text x="392.2" y="558.9">9.9</text>
<text x="506.7" y="546.9">5.8</text>
<text x="560.0" y="541.9">7.9</text>
<text x="268.9" y="564.9">5.9</text>
<text x="306.7" y="569.9">10.2</text>
<text x="332.2" y="592.9">9.5</text>
<text x="365.6" y="596.9">7.6</text>
<text x="420.0" y="590.9">4.6</text>
<text x="660.0" y="545.9">14.8</text>
<text x="145.0" y="525.4">11.0</text>
<text x="144.4" y="513.4">1</text>
<text x="283.3" y="293.4">12.1</text>
<text x="355.6" y="294.4">12.2</text>
<text x="225.6" y="581.9">9</text>
</g>
</g>
<path d="M637.2,502.2 L643.6,497.9 L650.0,493.6 L651.5,486.5 L657.2,476.5 L665.8,470.0 L667.0,469.3 L667.0,640.0 L594.6,640.0 L593.5,632.8 L594.6,623.7 L590.0,619.1 L588.9,607.8 L592.3,599.8 L596.9,591.8 L601.4,578.2 L596.9,572.0 L595.8,566.0 L597.2,555.8 L598.6,547.3 L602.9,540.1 L607.2,534.4 L613.0,527.2 L615.8,524.4 L618.7,517.2 L625.8,510.1Z" fill="#99b3c9"/>
<path d="M67.0,399.9 L69.8,401.5 L72.6,403.0 L75.3,402.3 L78.1,401.9 L80.8,400.9 L83.6,400.7 L86.8,401.0 L90.0,400.5 L93.2,400.2 L96.2,399.1 L97.8,396.0 L101.0,395.2 L104.0,394.0 L106.5,392.7 L109.3,392.2 L111.9,391.2 L114.1,389.5 L116.6,388.1 L119.9,389.0 L123.0,390.5 L125.4,392.0 L128.0,393.1 L130.8,393.6 L133.1,394.7 L134.5,397.1 L136.6,398.4 L138.7,399.9 L140.7,401.4 L142.8,403.0 L144.4,405.0 L146.5,406.5" fill="none" stroke="#111" stroke-width="2" stroke-linejoin="round" stroke-linecap="round"/>
<path d="M240.9,294.5 L239.6,291.1 L240.9,288.9 L242.2,286.8 L245.2,285.1 L248.2,283.3 L251.0,282.5 L253.3,280.8 L256.3,279.5 L259.3,278.2 L261.3,276.5 L263.4,274.8 L265.3,273.0 L268.1,270.8 L271.4,269.2 L273.0,268.7" fill="none" stroke="#111" stroke-width="2" stroke-linejoin="round" stroke-linecap="round"/>
<path d="M122.2,527.5 L121.2,529.9 L119.9,532.2 L119.0,534.7 L119.6,537.2 L121.0,539.4 L122.0,541.7 L122.2,544.3 L121.3,547.2 L120.3,550.1 L119.0,552.9 L117.6,556.0 L116.9,559.3 L117.4,562.2 L118.2,565.1 L119.0,567.9 L118.2,570.8 L117.4,573.6 L116.9,576.5 L120.1,578.6 L118.8,581.0 L116.9,582.9 L117.5,586.1 L117.9,589.4 L116.8,591.8 L114.6,593.4 L113.6,595.8 L111.9,598.3 L109.4,600.1 L107.4,602.0 L106.1,604.4 L105.1,608.7 L103.3,611.2 L100.8,613.0 L98.0,613.8 L95.4,615.1 L94.0,617.4 L92.2,619.4 L89.6,621.1 L86.8,622.6 L84.4,623.9 L82.5,625.9 L81.4,628.4 L79.3,630.2 L80.4,632.7 L80.4,635.5 L77.6,635.6 L75.0,636.6 L71.8,636.0 L68.6,635.5 L67.0,637.0" fill="none" stroke="#111" stroke-width="2" stroke-linejoin="round" stroke-linecap="round"/>
<path d="M201.6,579.7 L200.4,582.3 L198.5,584.6 L197.3,587.2 L195.7,589.2 L194.1,591.3 L193.0,593.7 L193.0,596.3 L192.5,598.9 L192.2,601.4 L191.6,604.0 L190.9,606.5 L191.0,609.4 L192.1,612.2 L192.0,615.1 L190.4,618.3 L188.8,621.6 L190.8,623.5 L192.5,625.7 L194.1,628.0 L193.4,630.9 L192.1,633.6 L191.6,636.6 L190.9,639.5" fill="none" stroke="#111" stroke-width="2" stroke-linejoin="round" stroke-linecap="round"/>
<path d="M202.5,584.0 L201.4,587.4 L199.5,590.5 L197.6,592.9 L196.0,595.4 L194.5,598.0" fill="none" stroke="#111" stroke-width="2" stroke-linejoin="round" stroke-linecap="round"/>
<path d="M637.2,502.2 L639.6,501.2 L641.1,498.8 L643.6,497.9 L645.9,496.7 L647.6,494.7 L650.0,493.6 L651.3,490.2 L651.5,486.5 L652.4,483.7 L654.7,481.7 L656.0,479.1 L657.2,476.5 L659.6,475.2 L661.9,473.7 L663.5,471.4 L665.8,470.0" fill="none" stroke="#111" stroke-width="1.5" stroke-linejoin="round" stroke-linecap="round"/>
<path d="M667.0,640.0 L664.4,640.2 L661.8,640.0 L659.2,640.1 L656.7,640.1 L654.1,640.1 L651.5,639.8 L648.9,640.3 L646.3,639.8 L643.7,640.6 L641.1,640.2 L638.6,640.2 L636.0,640.4 L633.4,639.7 L630.8,640.2 L628.2,639.7 L625.6,639.5 L623.0,640.3 L620.5,639.5 L617.9,639.6 L615.3,639.8 L612.7,640.6 L610.1,640.1 L607.5,639.8 L604.9,640.2 L602.4,640.3 L599.8,640.2 L597.2,640.3 L594.6,640.0 L594.4,636.3 L593.5,632.8 L593.7,629.7 L594.1,626.7 L594.6,623.7 L592.4,621.3 L590.0,619.1 L590.3,616.2 L589.2,613.5 L588.6,610.7 L588.9,607.8 L590.6,605.4 L591.5,602.6 L592.3,599.8 L594.1,597.3 L595.4,594.5 L596.9,591.8 L597.5,589.0 L598.3,586.2 L599.4,583.6 L600.5,580.9 L601.4,578.2 L599.5,576.4 L598.6,573.9 L596.9,572.0 L596.6,569.0 L595.8,566.0 L595.6,563.4 L596.9,561.0 L596.8,558.3 L597.2,555.8 L598.2,553.0 L598.1,550.1 L598.6,547.3 L600.3,545.1 L601.4,542.5 L602.9,540.1 L605.2,537.3 L607.2,534.4 L609.1,532.0 L610.6,529.2 L613.0,527.2 L615.8,524.4 L616.4,521.8 L617.4,519.5 L618.7,517.2 L620.4,515.3 L622.1,513.5 L624.1,511.9 L625.8,510.1" fill="none" stroke="#111" stroke-width="1.5" stroke-linejoin="round" stroke-linecap="round"/>
<path d="M610.1,504.3 L615.8,504.3 L617.2,510.1 L614.4,517.2 L617.2,522.9 L613.0,524.4 L604.4,521.5 L592.9,518.6 L588.6,515.8 L595.8,516.5 L607.2,515.8 L610.1,511.5Z" fill="#99b3c9" stroke="#111" stroke-width="1.6" stroke-linejoin="round"/>
<path d="M641.5,486.5 L650.8,478.6 L655.8,474.3 L665.8,467.2" fill="none" stroke="#111" stroke-width="1.4"/>
<path d="M640.5,495.5 C638,491.5 640.5,487.5 645,487.3 C649.5,487.5 650.5,491 648.5,494 C646.5,496.5 642.5,497.5 640.5,495.5 Z" fill="#f0eee7" stroke="#111" stroke-width="1.5"/>
<g stroke="#444" stroke-width="1.3">
<line x1="55.2" y1="323.1" x2="67" y2="323.1"/>
<line x1="55.2" y1="402.1" x2="67" y2="402.1"/>
<line x1="55.2" y1="481.1" x2="67" y2="481.1"/>
<line x1="55.2" y1="560.1" x2="67" y2="560.1"/>
<line x1="55.2" y1="639.1" x2="67" y2="639.1"/>
<line x1="90.0" y1="640" x2="90.0" y2="650.2"/>
<line x1="168.9" y1="640" x2="168.9" y2="650.2"/>
<line x1="247.8" y1="640" x2="247.8" y2="650.2"/>
<line x1="326.7" y1="640" x2="326.7" y2="650.2"/>
<line x1="405.6" y1="640" x2="405.6" y2="650.2"/>
<line x1="484.5" y1="640" x2="484.5" y2="650.2"/>
<line x1="563.4" y1="640" x2="563.4" y2="650.2"/>
<line x1="642.3" y1="640" x2="642.3" y2="650.2"/>
</g><g font-size="10.3" fill="#444" text-anchor="end">
<text x="49.6" y="326.8">23°S</text>
<text x="49.6" y="405.8">24°S</text>
<text x="49.6" y="484.8">25°S</text>
<text x="49.6" y="563.8">26°S</text>
<text x="49.6" y="642.8">27°S</text>
</g><g font-size="10.1" fill="#444" text-anchor="middle">
<text x="90.0" y="664.5">55°W</text>
<text x="168.9" y="664.5">54°W</text>
<text x="247.8" y="664.5">53°W</text>
<text x="326.7" y="664.5">52°W</text>
<text x="405.6" y="664.5">51°W</text>
<text x="484.5" y="664.5">50°W</text>
<text x="563.4" y="664.5">49°W</text>
<text x="642.3" y="664.5">48°W</text>
</g>
<rect x="217.50" y="687.5" width="18.93" height="5.5" fill="#3a35d8"/>
<rect x="236.13" y="687.5" width="18.93" height="5.5" fill="#3d6ae0"/>
<rect x="254.76" y="687.5" width="18.93" height="5.5" fill="#3ab4e0"/>
<rect x="273.39" y="687.5" width="18.93" height="5.5" fill="#40d8c8"/>
<rect x="292.02" y="687.5" width="18.93" height="5.5" fill="#40d8a4"/>
<rect x="310.66" y="687.5" width="18.93" height="5.5" fill="#40d870"/>
<rect x="329.29" y="687.5" width="18.93" height="5.5" fill="#50d830"/>
<rect x="347.92" y="687.5" width="18.93" height="5.5" fill="#a0dc30"/>
<rect x="366.55" y="687.5" width="18.93" height="5.5" fill="#c8e030"/>
<rect x="385.18" y="687.5" width="18.93" height="5.5" fill="#ecc030"/>
<rect x="403.81" y="687.5" width="18.93" height="5.5" fill="#e86a20"/>
<rect x="422.44" y="687.5" width="18.93" height="5.5" fill="#e82020"/>
<rect x="441.08" y="687.5" width="18.93" height="5.5" fill="#e8146a"/>
<rect x="459.71" y="687.5" width="18.93" height="5.5" fill="#e014b0"/>
<rect x="478.34" y="687.5" width="18.93" height="5.5" fill="#c814e0"/>
<rect x="496.97" y="687.5" width="18.93" height="5.5" fill="#7014e0"/>
<g font-size="12.2" font-weight="bold" fill="#111" text-anchor="middle">
<text x="254.8" y="704.6">2</text>
<text x="292.0" y="704.6">4</text>
<text x="329.3" y="704.6">6</text>
<text x="366.6" y="704.6">8</text>
<text x="403.8" y="704.6">10</text>
<text x="441.1" y="704.6">12</text>
<text x="478.3" y="704.6">14</text>
</g>
<g fill="#444"><text x="354.8" y="684.2" font-size="14.9">(</text><text x="358.6" y="677.6" font-size="8">o</text><text x="363" y="685.2" font-size="12.6">C</text><text x="373.8" y="684.2" font-size="14.9">)</text></g>
<text x="405" y="628" font-size="10.75" fill="#333">Fonte: Simepar/INMET</text>
<path d="M602.3,280 H651.9 V290.7 H602.3 Z" fill="#e8aa14"/>
<path d="M611.2,279.5 V286.6 H638.5 L641.5,291" fill="none" stroke="#f0eee7" stroke-width="1.5"/>
<g fill="none" stroke="#666" stroke-width="1.25" stroke-linejoin="round"><path d="M559.3,292.3 H548.5 Q546.3,292.5 546.3,293.9 Q546.5,295.2 548,295.2 H556.5 Q558.5,295.5 558.5,296.9 Q558.3,298.6 556.5,298.8 H545.4"/><path d="M565,293.6 V299.2"/><path d="M568.3,299.2 V292.3 H583 V299.2 M575.6,293.6 V299.2"/><path d="M590,295.2 H600 V292.3 H589 Q587,292.6 587,295.6 Q587,298.7 589.5,298.8 H600.4"/><path d="M602.9,299.2 V292.3 H616.8 V295.2 H602.9"/><path d="M620,292.3 H633 V299.2 H620 V295.2 H633"/><path d="M637.2,299.2 V292.3 H650.2 V295.5 H637.2 M643.7,295.5 L650.8,299.2"/></g>
<g fill="#222"><rect x="554" y="266.3" width="2" height="2"/><rect x="559.5" y="266.8" width="2.5" height="1.5"/><ellipse cx="568" cy="267.2" rx="2.3" ry="1.2"/><rect x="186" y="266.5" width="1.5" height="1.8"/><rect x="190" y="266.5" width="1.5" height="1.8"/></g>
<use href="#stp" fill="none" stroke="#111" stroke-width="2.1" stroke-linejoin="round"/>
<rect x="67" y="268.5" width="600" height="371.3" fill="none" stroke="#111" stroke-width="1.7"/>
</svg>
</body></html>
